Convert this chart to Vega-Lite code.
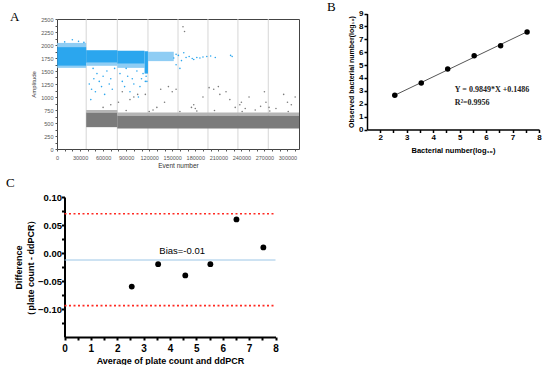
{
  "$schema": "https://vega.github.io/schema/vega-lite/v6.json",
  "background": "white",
  "padding": {"left": 6, "top": 0, "right": 0, "bottom": 0},
  "config": {"view": {"stroke": null}, "axis": {"grid": false, "labelOverlap": false, "labelFlush": false, "labelFont": "Liberation Sans", "titleFont": "Liberation Sans"}},
  "datasets": {
    "wells": [{"w": 38000}, {"w": 78500}, {"w": 118400}, {"w": 157500}, {"w": 196500}, {"w": 235500}, {"w": 275000}],
    "bands": [
      {"x": 300, "x2": 38000, "y": 1960, "y2": 2040, "c": "sparse"},
      {"x": 300, "x2": 38000, "y": 1560, "y2": 1600, "c": "sparse"},
      {"x": 300, "x2": 38000, "y": 1600, "y2": 1960, "c": "pos"},
      {"x": 38000, "x2": 78500, "y": 1600, "y2": 1660, "c": "sparse"},
      {"x": 38000, "x2": 78500, "y": 1660, "y2": 1900, "c": "pos"},
      {"x": 78500, "x2": 114000, "y": 1560, "y2": 1640, "c": "sparse"},
      {"x": 78500, "x2": 114000, "y": 1640, "y2": 1890, "c": "pos"},
      {"x": 114000, "x2": 118400, "y": 1450, "y2": 1880, "c": "pos"},
      {"x": 118400, "x2": 152000, "y": 1690, "y2": 1870, "c": "sparse"},
      {"x": 38000, "x2": 78500, "y": 700, "y2": 750, "c": "negs"},
      {"x": 38000, "x2": 78500, "y": 420, "y2": 700, "c": "neg"},
      {"x": 78500, "x2": 315000, "y": 640, "y2": 700, "c": "negs"},
      {"x": 78500, "x2": 315000, "y": 395, "y2": 640, "c": "neg"}
    ],
    "drops": [
      {"x": 42000, "y": 1250, "c": "pos"}, {"x": 45000, "y": 1150, "c": "pos"}, {"x": 48000, "y": 1350, "c": "pos"}, {"x": 50000, "y": 1100, "c": "pos"},
      {"x": 52000, "y": 1450, "c": "pos"}, {"x": 55000, "y": 1300, "c": "pos"}, {"x": 58000, "y": 1200, "c": "pos"}, {"x": 60000, "y": 1400, "c": "pos"},
      {"x": 62000, "y": 1050, "c": "pos"}, {"x": 65000, "y": 1500, "c": "pos"}, {"x": 68000, "y": 1250, "c": "pos"}, {"x": 70000, "y": 1350, "c": "pos"},
      {"x": 44000, "y": 950, "c": "pos"}, {"x": 72000, "y": 1150, "c": "pos"}, {"x": 75000, "y": 1550, "c": "pos"}, {"x": 47000, "y": 1550, "c": "pos"},
      {"x": 82000, "y": 1450, "c": "pos"}, {"x": 85000, "y": 1300, "c": "pos"}, {"x": 88000, "y": 1200, "c": "pos"}, {"x": 92000, "y": 1400, "c": "pos"},
      {"x": 95000, "y": 1100, "c": "pos"}, {"x": 98000, "y": 1350, "c": "pos"}, {"x": 100000, "y": 1250, "c": "pos"}, {"x": 104000, "y": 1500, "c": "pos"},
      {"x": 108000, "y": 1200, "c": "pos"}, {"x": 110000, "y": 1350, "c": "pos"}, {"x": 112000, "y": 1450, "c": "pos"}, {"x": 115000, "y": 1300, "c": "pos"},
      {"x": 116000, "y": 1400, "c": "pos"}, {"x": 90000, "y": 1550, "c": "pos"}, {"x": 106000, "y": 1000, "c": "pos"}, {"x": 117000, "y": 1300, "c": "pos"},
      {"x": 10000, "y": 2060, "c": "pos"}, {"x": 20000, "y": 2100, "c": "pos"}, {"x": 28000, "y": 2070, "c": "pos"}, {"x": 35000, "y": 2050, "c": "pos"},
      {"x": 152000, "y": 1750, "c": "pos"}, {"x": 155000, "y": 1820, "c": "pos"}, {"x": 158000, "y": 1800, "c": "pos"}, {"x": 162000, "y": 1700, "c": "pos"},
      {"x": 165000, "y": 1850, "c": "pos"}, {"x": 168000, "y": 1760, "c": "pos"}, {"x": 172000, "y": 1780, "c": "pos"}, {"x": 176000, "y": 1740, "c": "pos"},
      {"x": 182000, "y": 1760, "c": "pos"}, {"x": 186000, "y": 1750, "c": "pos"}, {"x": 190000, "y": 1770, "c": "pos"}, {"x": 195000, "y": 1780, "c": "pos"},
      {"x": 200000, "y": 1790, "c": "pos"}, {"x": 226000, "y": 1800, "c": "pos"}, {"x": 228000, "y": 1780, "c": "pos"}, {"x": 160000, "y": 1550, "c": "pos"},
      {"x": 155000, "y": 1620, "c": "pos"}, {"x": 178000, "y": 1720, "c": "pos"}, {"x": 206000, "y": 1760, "c": "pos"},
      {"x": 164000, "y": 2350, "c": "neg"}, {"x": 166000, "y": 2260, "c": "neg"},
      {"x": 60000, "y": 800, "c": "neg"}, {"x": 70000, "y": 850, "c": "neg"}, {"x": 80000, "y": 900, "c": "neg"}, {"x": 95000, "y": 950, "c": "neg"},
      {"x": 100000, "y": 1000, "c": "neg"}, {"x": 105000, "y": 1050, "c": "neg"}, {"x": 125000, "y": 750, "c": "neg"}, {"x": 130000, "y": 800, "c": "neg"},
      {"x": 140000, "y": 900, "c": "neg"}, {"x": 150000, "y": 1100, "c": "neg"}, {"x": 155000, "y": 1150, "c": "neg"}, {"x": 175000, "y": 800, "c": "neg"},
      {"x": 178000, "y": 850, "c": "neg"}, {"x": 180000, "y": 780, "c": "neg"}, {"x": 190000, "y": 1000, "c": "neg"}, {"x": 198000, "y": 1180, "c": "neg"},
      {"x": 204000, "y": 1150, "c": "neg"}, {"x": 210000, "y": 1200, "c": "neg"}, {"x": 212000, "y": 1050, "c": "neg"}, {"x": 220000, "y": 1100, "c": "neg"},
      {"x": 225000, "y": 950, "c": "neg"}, {"x": 232000, "y": 800, "c": "neg"}, {"x": 238000, "y": 850, "c": "neg"}, {"x": 240000, "y": 900, "c": "neg"},
      {"x": 245000, "y": 780, "c": "neg"}, {"x": 250000, "y": 1000, "c": "neg"}, {"x": 258000, "y": 750, "c": "neg"}, {"x": 265000, "y": 820, "c": "neg"},
      {"x": 270000, "y": 1100, "c": "neg"}, {"x": 272000, "y": 900, "c": "neg"}, {"x": 276000, "y": 800, "c": "neg"}, {"x": 285000, "y": 780, "c": "neg"},
      {"x": 295000, "y": 1050, "c": "neg"}, {"x": 300000, "y": 900, "c": "neg"}, {"x": 305000, "y": 850, "c": "neg"}, {"x": 310000, "y": 1000, "c": "neg"},
      {"x": 85000, "y": 1100, "c": "neg"}, {"x": 115000, "y": 1050, "c": "neg"}, {"x": 135000, "y": 1150, "c": "neg"}, {"x": 145000, "y": 1200, "c": "neg"},
      {"x": 160000, "y": 720, "c": "neg"}, {"x": 182000, "y": 730, "c": "neg"}, {"x": 241000, "y": 720, "c": "neg"}, {"x": 277000, "y": 730, "c": "neg"},
      {"x": 301000, "y": 720, "c": "neg"}, {"x": 90000, "y": 740, "c": "neg"}, {"x": 120000, "y": 720, "c": "neg"}, {"x": 205000, "y": 740, "c": "neg"}
    ],
    "stdcurve": [
      {"x": 2.55, "y": 2.65}, {"x": 3.55, "y": 3.6}, {"x": 4.55, "y": 4.7}, {"x": 5.55, "y": 5.72}, {"x": 6.55, "y": 6.5}, {"x": 7.55, "y": 7.57}
    ],
    "fit": [{"x": 2.55, "y": 2.66}, {"x": 7.55, "y": 7.58}],
    "eq": [{"x": 4.82, "y": 3.08, "t": "Y = 0.9849*X +0.1486"}, {"x": 4.82, "y": 2.08, "t": "R²=0.9956"}],
    "ba": [
      {"x": 2.55, "y": -0.06}, {"x": 3.55, "y": -0.02}, {"x": 4.58, "y": -0.04}, {"x": 5.53, "y": -0.02}, {"x": 6.52, "y": 0.06}, {"x": 7.54, "y": 0.01}
    ],
    "loa": [{"y": 0.07, "x": 0, "x2": 8}, {"y": -0.094, "x": 0, "x2": 8}],
    "bias": [{"y": -0.0125, "t": "Bias=-0.01", "x": 0, "x2": 8, "tx": 4.46, "ty": 0.004}]
  },
  "vconcat": [
    {
      "hconcat": [
        {
          "width": 242,
          "height": 130,
          "view": {"stroke": "#444", "strokeWidth": 1},
          "title": {"text": "A", "anchor": "start", "frame": "group", "dx": -47, "dy": 11, "font": "Liberation Serif", "fontSize": 13, "fontWeight": "normal", "color": "black"},
          "layer": [
            {
              "data": {"name": "wells"},
              "mark": {"type": "rule", "color": "#d6d6d6", "strokeWidth": 1},
              "encoding": {
                "x": {"field": "w", "type": "quantitative", "scale": {"domain": [0, 315000], "nice": false},
                  "axis": {"values": [0, 10000, 20000, 30000, 40000, 50000, 60000, 70000, 80000, 90000, 100000, 110000, 120000, 130000, 140000, 150000, 160000, 170000, 180000, 190000, 200000, 210000, 220000, 230000, 240000, 250000, 260000, 270000, 280000, 290000, 300000, 310000],
                    "tickCount": 100,
                    "labelExpr": "datum.value % 30000 === 0 ? format(datum.value, 'd') : ''", "labelOverlap": false,
                    "labelFontSize": 5.5, "labelColor": "#555", "tickSize": 2, "tickColor": "#555", "domain": false, "labelPadding": 4,
                    "title": "Event number", "titleFontSize": 6.5, "titleFontWeight": "normal", "titleColor": "#333", "titlePadding": 2}},
                "y": {"datum": 0, "type": "quantitative", "scale": {"domain": [0, 2500], "nice": false},
                  "axis": {"values": [0, 125, 250, 375, 500, 625, 750, 875, 1000, 1125, 1250, 1375, 1500, 1625, 1750, 1875, 2000, 2125, 2250, 2375, 2500],
                    "tickCount": 100,
                    "labelExpr": "datum.value % 250 === 0 ? format(datum.value, 'd') : ''", "labelOverlap": false,
                    "labelFontSize": 5.5, "labelColor": "#555", "tickSize": 2, "tickColor": "#555", "domain": false, "labelPadding": 2,
                    "title": "Amplitude", "titleFontSize": 6, "titleFontWeight": "normal", "titleColor": "#333", "titlePadding": 4}},
                "y2": {"datum": 2500}
              }
            },
            {
              "data": {"name": "bands"},
              "mark": {"type": "rect"},
              "encoding": {
                "x": {"field": "x", "type": "quantitative", "scale": {"domain": [0, 315000], "nice": false}},
                "x2": {"field": "x2"},
                "y": {"field": "y", "type": "quantitative", "scale": {"domain": [0, 2500], "nice": false}},
                "y2": {"field": "y2"},
                "color": {"field": "c", "type": "nominal", "scale": {"domain": ["pos", "sparse", "neg", "negs"], "range": ["#2ba6ee", "#8fcdf4", "#7b7b7b", "#b5b5b5"]}, "legend": null}
              }
            },
            {
              "data": {"name": "drops"},
              "mark": {"type": "circle", "size": 2.5, "opacity": 1},
              "encoding": {
                "x": {"field": "x", "type": "quantitative", "scale": {"domain": [0, 315000], "nice": false}},
                "y": {"field": "y", "type": "quantitative", "scale": {"domain": [0, 2500], "nice": false}},
                "color": {"field": "c", "type": "nominal", "scale": {"domain": ["pos", "sparse", "neg", "negs"], "range": ["#2ba6ee", "#8fcdf4", "#7b7b7b", "#b5b5b5"]}, "legend": null}
              }
            }
          ]
        },
        {
          "width": 172,
          "height": 110.5,
          "title": {"text": "B", "anchor": "start", "frame": "group", "dx": -40, "dy": 8, "font": "Liberation Serif", "fontSize": 13, "fontWeight": "normal", "color": "black"},
          "layer": [
            {
              "data": {"name": "fit"},
              "mark": {"type": "line", "color": "#555", "strokeWidth": 1},
              "encoding": {
                "x": {"field": "x", "type": "quantitative", "scale": {"domain": [1.5, 8], "nice": false},
                  "axis": {"values": [2, 2.5, 3, 3.5, 4, 4.5, 5, 5.5, 6, 6.5, 7, 7.5, 8], "tickCount": 100, "labelExpr": "datum.value % 1 === 0 ? format(datum.value, 'd') : ''", "labelOverlap": false,
                    "domainColor": "black", "domainWidth": 1.5, "tickColor": "black", "tickWidth": 1.5, "tickSize": 3,
                    "labelFontSize": 8, "labelFontWeight": "bold", "labelColor": "black", "labelPadding": 1,
                    "title": "Bacterial number(log₁₀)", "titleFontSize": 7.5, "titleFontWeight": "bold", "titleColor": "black", "titlePadding": 5}},
                "y": {"field": "y", "type": "quantitative", "scale": {"domain": [0, 9], "nice": false, "range": [110.5, -5.5]},
                  "axis": {"values": [0, 1, 2, 3, 4, 5, 6, 7, 8, 9], "tickCount": 100, "format": "d", "labelOverlap": false,
                    "domainColor": "black", "domainWidth": 1.5, "tickColor": "black", "tickWidth": 1.5, "tickSize": 3,
                    "labelFontSize": 8, "labelFontWeight": "bold", "labelColor": "black", "labelPadding": 1,
                    "title": "Observed bacterial number(log₁₀)", "titleFontSize": 7, "titleFontWeight": "bold", "titleColor": "black", "titlePadding": 4}}
              }
            },
            {
              "data": {"name": "stdcurve"},
              "mark": {"type": "circle", "size": 30, "color": "black", "opacity": 1},
              "encoding": {
                "x": {"field": "x", "type": "quantitative", "scale": {"domain": [1.5, 8], "nice": false}},
                "y": {"field": "y", "type": "quantitative", "scale": {"domain": [0, 9], "nice": false, "range": [110.5, -5.5]}}
              }
            },
            {
              "data": {"name": "eq"},
              "mark": {"type": "text", "align": "left", "baseline": "middle", "font": "Liberation Serif", "fontWeight": "bold", "fontSize": 8, "color": "#222"},
              "encoding": {
                "x": {"field": "x", "type": "quantitative", "scale": {"domain": [1.5, 8], "nice": false}},
                "y": {"field": "y", "type": "quantitative", "scale": {"domain": [0, 9], "nice": false, "range": [110.5, -5.5]}},
                "text": {"field": "t"}
              }
            }
          ]
        }
      ],
      "spacing": 27
    },
    {
      "width": 218.5,
      "height": 140,
      "title": {"text": "C", "anchor": "start", "frame": "group", "dx": -51, "dy": 2, "font": "Liberation Serif", "fontSize": 13, "fontWeight": "normal", "color": "black"},
      "layer": [
        {
          "data": {"name": "loa"},
          "mark": {"type": "rule", "color": "#ff2a22", "strokeWidth": 1.6, "strokeDash": [2, 2.5]},
          "encoding": {
            "x": {"field": "x", "type": "quantitative", "scale": {"domain": [0, 8], "nice": false, "range": [7.5, 218.5]}},
            "x2": {"field": "x2"},
            "y": {"field": "y", "type": "quantitative", "scale": {"domain": [-0.15, 0.1], "nice": false, "zero": false},
              "axis": {"values": [-0.125, -0.1, -0.075, -0.05, -0.025, 0, 0.025, 0.05, 0.075, 0.1], "tickCount": 100, "offset": -7.5,
                "labelExpr": "abs(datum.value * 20 - round(datum.value * 20)) < 0.001 ? format(datum.value, '.2f') : ''", "labelOverlap": false,
                "domainColor": "black", "domainWidth": 2, "tickColor": "black", "tickWidth": 2, "tickSize": 3,
                "labelFontSize": 9.5, "labelFontWeight": "bold", "labelColor": "black", "labelPadding": 0,
                "title": ["Difference", "（plate count - ddPCR）"], "titleFontSize": 9, "titleFontWeight": "bold", "titleColor": "black", "titlePadding": 2, "titleLineHeight": 12}}
          }
        },
        {
          "data": {"name": "bias"},
          "mark": {"type": "rule", "color": "#9cc6e6", "strokeWidth": 1},
          "encoding": {
            "x": {"field": "x", "type": "quantitative", "scale": {"domain": [0, 8], "nice": false, "range": [7.5, 218.5]}},
            "x2": {"field": "x2"},
            "y": {"field": "y", "type": "quantitative", "scale": {"domain": [-0.15, 0.1], "nice": false, "zero": false}}
          }
        },
        {
          "data": {"name": "bias"},
          "mark": {"type": "text", "align": "center", "baseline": "middle", "font": "Liberation Sans", "fontSize": 9.5, "color": "black"},
          "encoding": {
            "x": {"field": "tx", "type": "quantitative", "scale": {"domain": [0, 8], "nice": false, "range": [7.5, 218.5]}},
            "y": {"field": "ty", "type": "quantitative", "scale": {"domain": [-0.15, 0.1], "nice": false, "zero": false}},
            "text": {"field": "t"}
          }
        },
        {
          "data": {"name": "ba"},
          "mark": {"type": "circle", "size": 34, "color": "black", "opacity": 1},
          "encoding": {
            "x": {"field": "x", "type": "quantitative", "scale": {"domain": [0, 8], "nice": false, "range": [7.5, 218.5]},
              "axis": {"values": [0, 0.5, 1, 1.5, 2, 2.5, 3, 3.5, 4, 4.5, 5, 5.5, 6, 6.5, 7, 7.5, 8], "tickCount": 100, "labelExpr": "datum.value % 1 === 0 ? format(datum.value, 'd') : ''", "labelOverlap": false,
                "domainColor": "black", "domainWidth": 2, "tickColor": "black", "tickWidth": 2, "tickSize": 3,
                "labelFontSize": 10, "labelFontWeight": "bold", "labelColor": "black", "labelPadding": 3,
                "title": "Average of plate count and ddPCR", "titleFontSize": 9, "titleFontWeight": "bold", "titleColor": "black", "titlePadding": 3}},
            "y": {"field": "y", "type": "quantitative", "scale": {"domain": [-0.15, 0.1], "nice": false, "zero": false}}
          }
        }
      ]
    }
  ],
  "spacing": 7
}
